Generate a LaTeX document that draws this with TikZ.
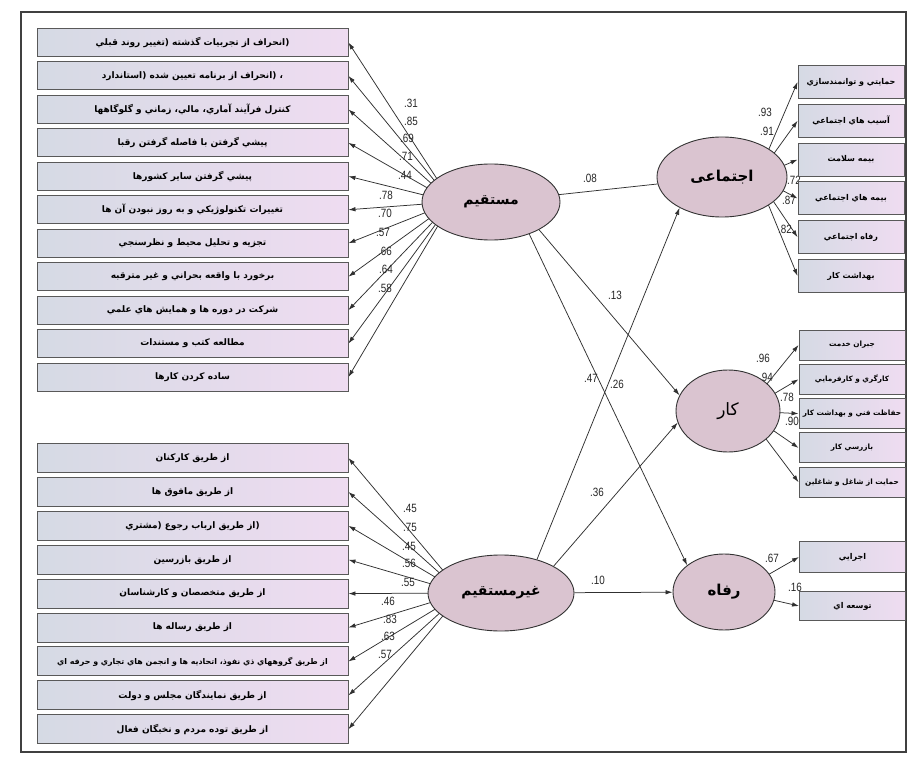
\documentclass[tikz,border=0pt]{standalone}
\usepackage{fontspec}
\setmainfont{Liberation Sans}
\newfontfamily\farsi[Script=Arabic]{DejaVu Sans}
\newfontfamily\numfont[FakeStretch=0.82]{Liberation Sans}
\TeXXeTstate=1
\usetikzlibrary{arrows.meta,shapes.geometric}
\pgfdeclarelayer{back}
\pgfdeclarelayer{bg}
\pgfsetlayers{back,bg,main}
\newcommand\fa[1]{{\farsi\bfseries\beginR #1\endR}}
\definecolor{boxL}{HTML}{D5DAE4}
\definecolor{boxR}{HTML}{EFDCF1}
\definecolor{ellf}{HTML}{DAC4D0}
\definecolor{edgec}{HTML}{303030}
\tikzset{
  ind/.style={rectangle, draw=black!65, line width=0.9pt, left color=boxL, right color=boxR,
    inner sep=0pt, text=black, font=\fontsize{9}{10}\selectfont},
  rind/.style={ind, minimum width=106pt, font=\fontsize{8}{9}\selectfont},
  lat/.style={ellipse, draw=black!80, line width=0.9pt, fill=ellf, inner sep=0pt, text=black},
  arr/.style={draw=edgec, line width=0.75pt, -{Latex[length=7pt,width=4.5pt]}},
  plain/.style={draw=edgec, line width=0.75pt},
  lbl/.style={inner sep=0pt, text=black!85, font=\numfont\fontsize{12}{13}\selectfont}
}
\begin{document}
\begin{tikzpicture}[x=1pt,y=-1pt]
\useasboundingbox (0,0) rectangle (914,765);
\begin{pgfonlayer}{back}
\fill[white] (0,0) rectangle (914,765);
\draw[black!75, line width=1.6pt] (21,12) rectangle (906,752);
\end{pgfonlayer}

% latent variables
\node[lat, minimum width=138pt, minimum height=76pt, font=\fontsize{14}{16}\selectfont] (m) at (491,202) {\fa{مستقيم}};
\node[lat, minimum width=146pt, minimum height=76pt, font=\fontsize{14}{16}\selectfont] (g) at (501,593) {\fa{غيرمستقيم}};
\node[lat, minimum width=130pt, minimum height=80pt, font=\fontsize{15}{17}\selectfont] (e) at (722,177) {\fa{اجتماعی}};
\node[lat, minimum width=104pt, minimum height=82pt, font=\fontsize{17}{19}\selectfont] (k) at (728,411) {{\farsi\beginR كار\endR}};
\node[lat, minimum width=102pt, minimum height=76pt, font=\fontsize{15}{17}\selectfont] (r) at (724,592) {\fa{رفاه}};

% hidden focal points inside the ellipses (lines fan out from them)
\coordinate (mc) at (452,202);
\coordinate (gc) at (462,593);
\coordinate (ec) at (757,177);
\coordinate (kc) at (745,411);
\coordinate (rc) at (738,592);

% indicators of mostaqim
\foreach \i/\txt in {
 1/{(انحراف از تجربيات گذشته (تغيير روند قبلي},
 2/{، (انحراف از برنامه تعيين شده (استاندارد},
 3/{كنترل فرآيند آماري، مالي، زماني و گلوگاهها},
 4/{پيشي گرفتن با فاصله گرفتن رقبا},
 5/{پيشي گرفتن ساير كشورها},
 6/{تغييرات تكنولوژيكي و به روز نبودن آن ها},
 7/{تجزيه و تحليل محيط و نظرسنجي},
 8/{برخورد با واقعه بحراني و غير مترقبه},
 9/{شركت در دوره ها و همايش هاي علمي},
 10/{مطالعه كتب و مستندات},
 11/{ساده كردن كارها}}
  \node[ind, minimum width=311pt, minimum height=28pt] (u\i) at (192.5,{42.5+33.45*(\i-1)}) {\fa{\txt}};

% indicators of gheyr-mostaqim
\foreach \i/\txt in {
 1/{از طريق كاركنان},
 2/{از طريق مافوق ها},
 3/{(از طريق ارباب رجوع (مشتري},
 4/{از طريق بازرسين},
 5/{از طريق متخصصان و كارشناسان},
 6/{از طريق رساله ها},
 8/{از طريق نمايندگان مجلس و دولت},
 9/{از طريق توده مردم و نخبگان فعال}}
  \node[ind, minimum width=311pt, minimum height=29pt] (d\i) at (192.5,{458+33.9*(\i-1)}) {\fa{\txt}};
\node[ind, minimum width=311pt, minimum height=29pt, font=\fontsize{7.9}{9}\selectfont] (d7) at (192.5,{458+33.9*6})
  {\fa{از طريق گروههاي ذي نفوذ، اتحاديه ها و انجمن هاي تجاري و حرفه اي}};

% indicators of ejtemai
\foreach \i/\txt in {
 1/{حمايتي و توانمندسازي},
 2/{آسيب هاي اجتماعي},
 3/{بيمه سلامت},
 4/{بيمه هاي اجتماعي},
 5/{رفاه اجتماعي},
 6/{بهداشت كار}}
  \node[rind, minimum height=33pt] (e\i) at (851,{82+38.8*(\i-1)}) {\fa{\txt}};

% indicators of kar
\foreach \i/\txt in {
 1/{جبران خدمت},
 2/{كارگري و كارفرمايي},
 3/{حفاظت فني و بهداشت كار},
 4/{بازرسي كار},
 5/{حمايت از شاغل و شاغلين}}
  \node[rind, minimum height=30pt, font=\fontsize{7.3}{9}\selectfont] (k\i) at (852,{345+34.3*(\i-1)}) {\fa{\txt}};

% indicators of refah
\node[rind, minimum height=31pt] (r1) at (852.5,557) {\fa{اجرايي}};
\node[rind, minimum height=29pt] (r2) at (852.5,606) {\fa{توسعه اي}};

\begin{pgfonlayer}{bg}
  \foreach \i in {1,...,11} \draw[arr] (mc) -- (u\i.east);
  \foreach \i in {1,...,9} \draw[arr] (gc) -- (d\i.east);
  \foreach \i in {1,...,6} \draw[arr] (ec) -- (e\i.west);
  \foreach \i in {1,...,5} \draw[arr] (kc) -- (k\i.west);
  \foreach \i in {1,2} \draw[arr] (rc) -- (r\i.west);
  \draw[plain] (m) -- (e);
  \draw[arr] (m.-30) -- (k.162);
  \draw[arr] (m.-40) -- (r.144);
  \draw[arr] (g.43) -- (e.216);
  \draw[arr] (g.27) -- (k.193);
  \draw[arr] (g) -- (r);

  % loadings
  \foreach \n/\x/\y/\v in {1/411/103/.31, 2/411/121/.85, 3/407/138/.69, 4/406/156/.71, 5/405/175/.44,
     6/386/195/.78, 7/385/213/.70, 8/383/232/.57, 9/385/251/.66, 10/386/269/.64, 11/385/288/.58}
    \node[lbl] (lu\n) at (\x,\y) {\v};
  \foreach \n/\x/\y/\v in {1/410/508/.45, 2/410/527/.75, 3/409/546/.45, 4/409/563/.56, 5/408/582/.55,
     6/388/601/.46, 7/390/619/.83, 8/388/636/.63, 9/385/654/.57}
    \node[lbl] (ld\n) at (\x,\y) {\v};
  \foreach \n/\x/\y/\v in {1/765/112/.93, 2/767/131/.91, 3/794/180/.72, 4/789/200/.87, 5/785/229/.82}
    \node[lbl] (le\n) at (\x,\y) {\v};
  \foreach \n/\x/\y/\v in {1/763/358/.96, 2/766/377/.94, 3/787/397/.78, 4/792/421/.90}
    \node[lbl] (lk\n) at (\x,\y) {\v};
  \node[lbl] (lr1) at (772,558) {.67};
  \node[lbl] (lr2) at (795,587) {.16};

  % structural coefficients
  \node[lbl] (s1) at (590,178) {.08};
  \node[lbl] (s2) at (615,295) {.13};
  \node[lbl] (s3) at (591,378) {.47};
  \node[lbl] (s4) at (617,384) {.26};
  \node[lbl] (s5) at (597,492) {.36};
  \node[lbl] (s6) at (598,580) {.10};
\end{pgfonlayer}
\end{tikzpicture}
\end{document}
